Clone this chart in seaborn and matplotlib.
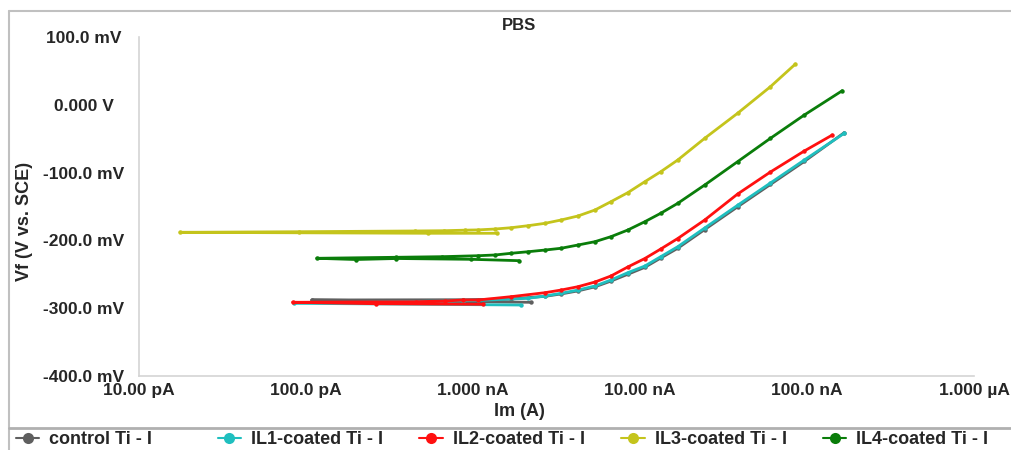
import numpy as np
import matplotlib
matplotlib.use("Agg")
import matplotlib.pyplot as plt
from matplotlib.lines import Line2D
from matplotlib.ticker import LogLocator, MultipleLocator, NullFormatter
import seaborn as sns

# potentiodynamic scans in PBS: current (A) vs potential (mV vs SCE)
control_i = [2.23e-9, 1.08e-10, 8.73e-10, 1.692e-9, 2.70e-9, 3.37e-9, 4.25e-9, 5.37e-9,
             6.70e-9, 8.45e-9, 1.069e-8, 1.331e-8, 1.683e-8, 2.44e-8, 3.84e-8, 6.04e-8,
             9.64e-8, 1.671e-7]
control_v = [-291.3, -287.9, -287.5, -286.4, -282.5, -279.0, -274.5, -268.5,
             -260.0, -250.0, -239.7, -226.0, -211.6, -184.0, -150.5, -117.5,
             -83.5, -41.1]

il1_i = [1.94e-9, 8.43e-11, 8.73e-10, 1.074e-9, 2.138e-9, 2.70e-9, 3.37e-9, 4.25e-9,
         5.37e-9, 6.70e-9, 8.45e-9, 1.069e-8, 1.331e-8, 1.683e-8, 2.44e-8, 3.84e-8,
         6.04e-8, 9.64e-8, 1.671e-7]
il1_v = [-295.3, -292.8, -289.0, -288.5, -285.4, -282.0, -278.0, -273.2,
         -267.3, -258.4, -247.6, -237.8, -224.0, -209.3, -181.7, -148.2,
         -115.3, -81.4, -42.0]

il2_i = [1.14e-9, 2.64e-10, 8.32e-11, 4.58e-10, 6.82e-10, 8.73e-10, 1.074e-9, 1.692e-9,
         2.70e-9, 3.37e-9, 4.25e-9, 5.37e-9, 6.70e-9, 8.45e-9, 1.069e-8, 1.331e-8,
         1.683e-8, 2.44e-8, 3.84e-8, 6.04e-8, 9.64e-8, 1.419e-7]
il2_v = [-294.3, -293.4, -291.3, -290.4, -289.4, -287.9, -287.9, -283.0,
         -277.1, -273.2, -268.3, -261.4, -252.5, -239.2, -226.7, -212.7,
         -197.2, -169.9, -131.6, -99.1, -68.1, -44.5]

il3_i = [1.40e-9, 5.40e-10, 1.76e-11, 9.03e-11, 4.52e-10, 6.73e-10, 8.98e-10, 1.074e-9,
         1.357e-9, 1.692e-9, 2.138e-9, 2.70e-9, 3.37e-9, 4.25e-9, 5.37e-9, 6.70e-9,
         8.45e-9, 1.069e-8, 1.331e-8, 1.683e-8, 2.44e-8, 3.84e-8, 6.04e-8, 8.53e-8]
il3_v = [-189.5, -189.5, -188.1, -187.2, -186.1, -185.7, -184.9, -184.5,
         -183.2, -181.3, -178.3, -174.8, -169.9, -164.0, -155.2, -142.9,
         -129.6, -113.4, -98.7, -81.4, -49.4, -12.5, 26.7, 60.2]

il4_i = [1.89e-9, 9.75e-10, 3.48e-10, 1.98e-10, 1.16e-10, 3.48e-10, 6.55e-10, 1.074e-9,
         1.357e-9, 1.692e-9, 2.138e-9, 2.70e-9, 3.37e-9, 4.25e-9, 5.37e-9, 6.70e-9,
         8.45e-9, 1.069e-8, 1.331e-8, 1.683e-8, 2.44e-8, 3.84e-8, 6.04e-8, 9.64e-8,
         1.626e-7]
il4_v = [-229.9, -227.9, -226.7, -228.2, -226.4, -224.9, -224.0, -222.6,
         -221.5, -219.0, -216.7, -214.2, -211.6, -206.8, -201.9, -194.5,
         -184.7, -172.4, -160.0, -145.3, -118.3, -83.9, -49.4, -15.0,
         20.8]

labels = ["control Ti - I", "IL1-coated Ti - I", "IL2-coated Ti - I",
          "IL3-coated Ti - I", "IL4-coated Ti - I"]
colors = ["#5f5f5f", "#1fbfbf", "#ff1010", "#c4c41c", "#0a7d0a"]

x_ticks = [1e-11, 1e-10, 1e-9, 1e-8, 1e-7, 1e-6]
x_labels = ["10.00 pA", "100.0 pA", "1.000 nA", "10.00 nA", "100.0 nA", "1.000 µA"]
y_ticks = [-400, -300, -200, -100, 0, 100]
y_labels = ["-400.0 mV", "-300.0 mV", "-200.0 mV", "-100.0 mV", "0.000 V", "100.0 mV"]

sns.set_style("white")
plt.rcParams["font.family"] = ["Liberation Sans", "DejaVu Sans"]
plt.rcParams["font.weight"] = "bold"

fig = plt.figure(figsize=(10.12, 4.5), dpi=100)
ax = fig.add_axes([139 / 1012, 1 - 376 / 450, 835 / 1012, 339 / 450])

series = [(control_i, control_v), (il1_i, il1_v), (il2_i, il2_v),
          (il3_i, il3_v), (il4_i, il4_v)]
for (xi, yv), lab, c in zip(series, labels, colors):
    sns.lineplot(x=xi, y=yv, sort=False, estimator=None, color=c, lw=2.0,
                 marker="o", markersize=3.2, markeredgewidth=0, ax=ax)

ax.set_xscale("log")
ax.set_xlim(1e-11, 1e-6)
ax.set_ylim(-400, 100)
ax.set_xticks(x_ticks)
ax.set_xticklabels(x_labels)
ax.xaxis.set_minor_locator(LogLocator(base=10, subs=np.arange(2, 10)))
ax.xaxis.set_minor_formatter(NullFormatter())
ax.set_yticks(y_ticks)
ax.set_yticklabels(y_labels)
ax.yaxis.set_minor_locator(MultipleLocator(20))

for s in ["top", "right"]:
    ax.spines[s].set_visible(False)
for s in ["left", "bottom"]:
    ax.spines[s].set_color("#d4d4d4")
    ax.spines[s].set_linewidth(1.2)

ax.tick_params(axis="x", which="both", direction="in", color="#c8c8c8", pad=5,
               labelsize=12.5)
ax.tick_params(axis="x", which="major", length=4)
ax.tick_params(axis="x", which="minor", length=3)
ax.tick_params(axis="y", which="both", direction="out", color="#c8c8c8", labelsize=12.5)
ax.tick_params(axis="y", which="major", length=3, pad=37)
ax.tick_params(axis="y", which="minor", length=2)
for t in ax.get_yticklabels():
    t.set_horizontalalignment("center")
ax.set_xlabel("")
ax.set_ylabel("")

fig.text(519 / 1012, 1 - 25 / 450, "PBS", ha="center", va="center",
         fontsize=12, fontweight="bold")
fig.text(519 / 1012, 1 - 411 / 450, "Im (A)", ha="center", va="center",
         fontsize=13, fontweight="bold")
fig.text(25 / 1012, 1 - 221 / 450, "Vf (V vs. SCE)", ha="center", va="center",
         rotation=90, fontsize=13, fontweight="bold")

# outer frame and legend separator
fig.add_artist(Line2D([9 / 1012, 1], [1 - 11 / 450, 1 - 11 / 450],
                      transform=fig.transFigure, color="#c0c0c0", lw=1.5))
fig.add_artist(Line2D([9 / 1012, 9 / 1012], [1 - 11 / 450, 0],
                      transform=fig.transFigure, color="#c0c0c0", lw=1.5))
fig.add_artist(Line2D([9 / 1012, 1], [1 - 428 / 450, 1 - 428 / 450],
                      transform=fig.transFigure, color="#b0b0b0", lw=2))

# evenly spaced legend entries
for k, (lab, c) in enumerate(zip(labels, colors)):
    h = Line2D([], [], color=c, lw=1.5, marker="o", markersize=8, markeredgewidth=0)
    fig.legend([h], [lab], loc="center left",
               bbox_to_anchor=((16 + 201.7 * k) / 1012, 1 - 440 / 450),
               frameon=False, borderpad=0, borderaxespad=0, handlelength=1.3,
               handletextpad=0.55, prop={"size": 13, "weight": "bold"})

fig.savefig("out.png", dpi=100)
